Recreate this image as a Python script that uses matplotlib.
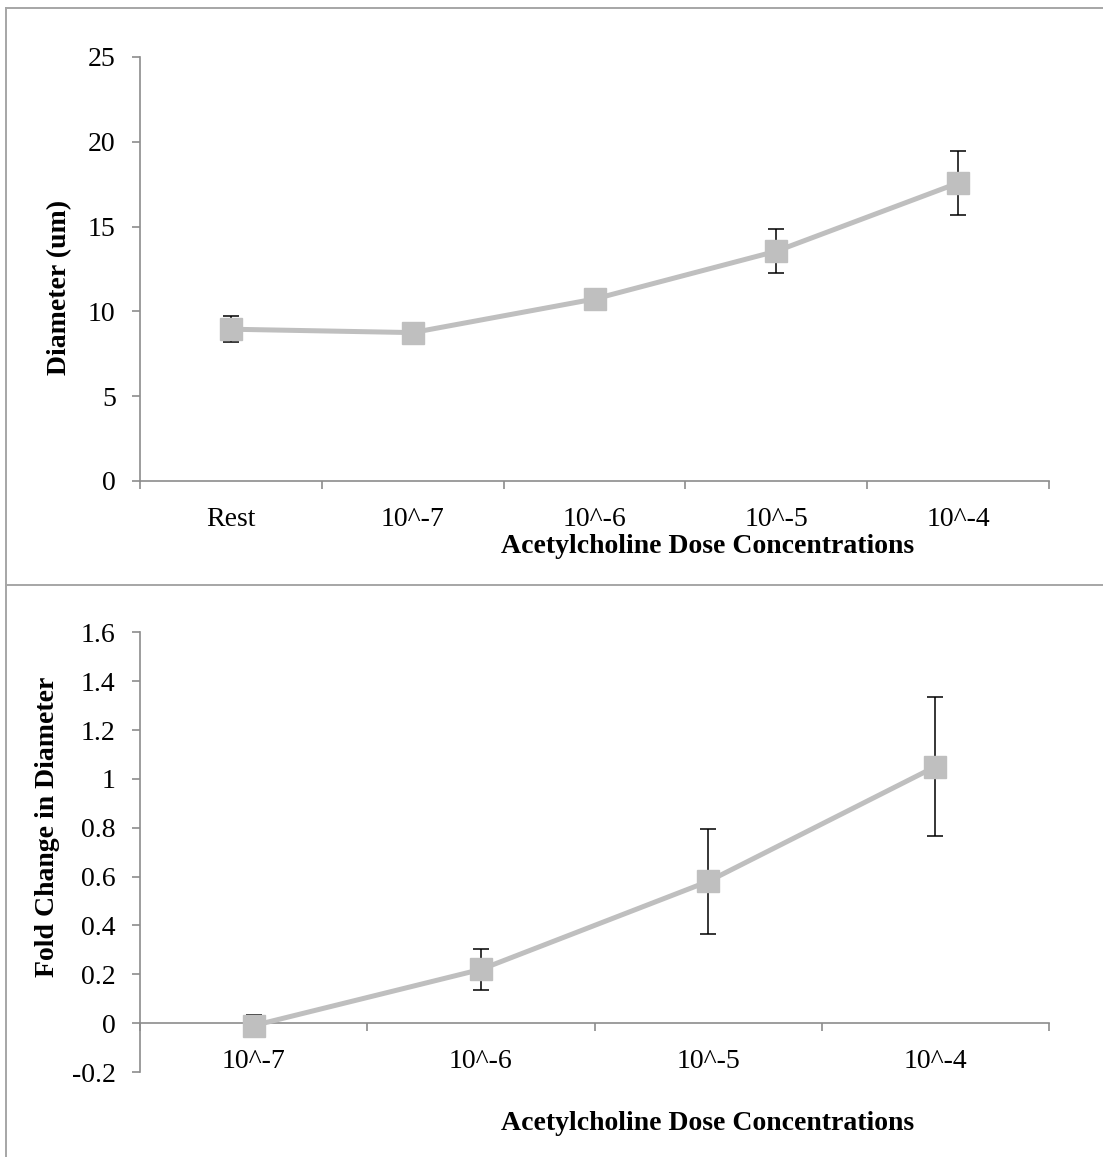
import matplotlib
matplotlib.use("Agg")
import matplotlib.pyplot as plt
from matplotlib.lines import Line2D
from matplotlib.ticker import FuncFormatter, FixedLocator
import numpy as np

# ---- data ----
top_categories = ["Rest", "10^-7", "10^-6", "10^-5", "10^-4"]
top_diameter = [8.95, 8.75, 10.73, 13.55, 17.57]
top_err = [0.76, 0.40, 0.62, 1.30, 1.91]
top_yticks = [0, 5, 10, 15, 20, 25]

bot_categories = ["10^-7", "10^-6", "10^-5", "10^-4"]
bot_fold = [-0.01, 0.22, 0.58, 1.05]
bot_err = [0.045, 0.085, 0.215, 0.285]
bot_yticks = [-0.2, 0, 0.2, 0.4, 0.6, 0.8, 1.0, 1.2, 1.4, 1.6]

xlabel_text = "Acetylcholine Dose Concentrations"
top_ylabel = "Diameter (um)"
bot_ylabel = "Fold Change in Diameter"

# ---- style ----
plt.rcParams["font.family"] = ["Liberation Serif", "DejaVu Serif"]
plt.rcParams["axes.unicode_minus"] = False
W, H = 1103, 1157
DPI = 100
fig = plt.figure(figsize=(W / DPI, H / DPI), dpi=DPI)
fig.patch.set_facecolor("white")

LINE_C = "#bfbfbf"
AX_C = "#8c8c8c"
FS = 20


def px(x, y):
    return x / W, 1 - y / H


def style_axes(ax, ncat, labels, ylim, yticks):
    ax.set_xlim(0, ncat)
    ax.set_ylim(*ylim)
    for s in ("top", "right"):
        ax.spines[s].set_visible(False)
    for s in ("left", "bottom"):
        ax.spines[s].set_color(AX_C)
        ax.spines[s].set_linewidth(1.2)
    ax.spines["bottom"].set_position(("data", 0))
    ax.xaxis.set_major_locator(FixedLocator(np.arange(ncat + 1)))
    ax.xaxis.set_minor_locator(FixedLocator(np.arange(ncat) + 0.5))
    ax.set_xticklabels([], minor=False)
    ax.set_xticklabels(labels, minor=True)
    ax.tick_params(axis="x", which="major", direction="out", length=5.5,
                   width=1.2, color=AX_C)
    ax.tick_params(axis="x", which="minor", length=0, pad=18.5,
                   labelsize=FS)
    ax.set_yticks(yticks)
    ax.yaxis.set_major_formatter(FuncFormatter(lambda v, p: "%g" % round(v, 2)))
    ax.tick_params(axis="y", direction="out", length=5.5, width=1.2,
                   color=AX_C, pad=12, labelsize=FS)


# top panel
ax1 = fig.add_axes([140 / W, 1 - 481 / H, 909 / W, 424 / H])
style_axes(ax1, len(top_categories), top_categories, (0, 25), top_yticks)
x1 = np.arange(len(top_categories)) + 0.5
ax1.errorbar(x1, top_diameter, yerr=top_err, fmt="none", ecolor="black",
             elinewidth=1.1, capsize=5.8, capthick=1.1, zorder=2)
ax1.plot(x1, top_diameter, color=LINE_C, lw=3.6, marker="s", ms=15.5,
         mec=LINE_C, mfc=LINE_C, zorder=3)

# bottom panel
ax2 = fig.add_axes([140 / W, 1 - 1072 / H, 909 / W, 439.7 / H])
style_axes(ax2, len(bot_categories), bot_categories, (-0.2, 1.6), bot_yticks)
x2 = np.arange(len(bot_categories)) + 0.5
ax2.errorbar(x2, bot_fold, yerr=bot_err, fmt="none", ecolor="black",
             elinewidth=1.1, capsize=5.8, capthick=1.1, zorder=2)
ax2.plot(x2, bot_fold, color=LINE_C, lw=3.6, marker="s", ms=15.5,
         mec=LINE_C, mfc=LINE_C, zorder=3)

# axis titles
fig.text(*px(708, 547), xlabel_text, ha="center", va="center",
         fontsize=20, fontweight="bold")
fig.text(*px(708, 1123), xlabel_text, ha="center", va="center",
         fontsize=20, fontweight="bold")
fig.text(*px(60, 287), top_ylabel, ha="center", va="center", rotation=90,
         fontsize=20, fontweight="bold")
fig.text(*px(48, 827), bot_ylabel, ha="center", va="center", rotation=90,
         fontsize=20, fontweight="bold")

# chart frames
FRAME_C = "#a6a6a6"
for (xa, ya, xb, yb) in [(6, 8, 1103, 8), (6, 8, 6, 1157), (6, 585, 1103, 585)]:
    (fx0, fy0), (fx1, fy1) = px(xa, ya), px(xb, yb)
    fig.add_artist(Line2D([fx0, fx1], [fy0, fy1], transform=fig.transFigure,
                          color=FRAME_C, lw=1.4))

fig.savefig("out.png", dpi=DPI, facecolor="white")
